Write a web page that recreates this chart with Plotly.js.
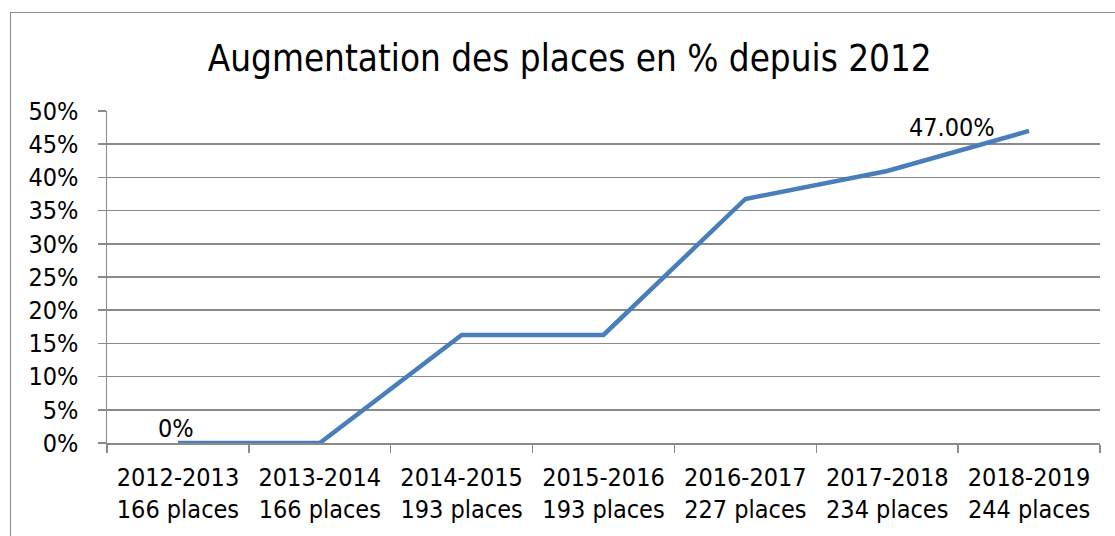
<!DOCTYPE html>
<html><head><meta charset="utf-8">
<script src="https://cdn.plot.ly/plotly-3.0.1.min.js"></script>
<style>
html,body{margin:0;padding:0;background:#fff;}
#wrap{position:relative;width:1115px;height:536px;overflow:hidden;}
#chart{width:1115px;height:536px;}
#frame{position:absolute;left:10px;top:12px;width:1130px;height:560px;border:1.5px solid #8a8a8a;pointer-events:none;}
</style></head>
<body>
<div id="wrap"><div id="chart"></div><div id="frame"></div></div>
<script>
const seasons = ["2012-2013","2013-2014","2014-2015","2015-2016","2016-2017","2017-2018","2018-2019"];
const places = [166,166,193,193,227,234,244];
const increase = [0, 0, 0.1627, 0.1627, 0.3675, 0.4096, 0.47];
const labelled = [0, 6];
const labelText = ["0%", "47.00%"];

const cats = seasons.map((s,i)=> s + "<br>" + places[i] + " places");
const FONT = "DejaVu Sans Condensed, DejaVu Sans, sans-serif";

const trace = {
  x: cats, y: increase, type: "scatter", mode: "lines",
  line: {color: "#4a7ebb", width: 4.5},
  hoverinfo: "skip"
};

const shifts = [{xs:-2, ys:15, ya:"middle"}, {xs:-77, ys:3, ya:"middle"}];
const annotations = labelled.map((idx,k)=>({
  x: cats[idx], y: increase[idx], xref:"x", yref:"y",
  text: labelText[k], showarrow:false,
  xanchor:"center", yanchor: shifts[k].ya,
  xshift: shifts[k].xs, yshift: shifts[k].ys,
  font:{family:FONT, size:25, color:"#000"}
}));

const layout = {
  width: 1115, height: 536,
  margin: {l:107, r:15, t:111, b:93},
  paper_bgcolor: "rgba(0,0,0,0)", plot_bgcolor: "#fff",
  showlegend: false,
  title: {text: "Augmentation des places en % depuis 2012", x: 0.511, xanchor:"center",
          y: 1 - 58/536, yanchor:"middle", yref:"container",
          font: {family: FONT, size: 36.5, color: "#000"}},
  xaxis: {type:"category", showgrid:false, showline:true, linecolor:"#8a8a8a", linewidth:1.5,
          ticks:"outside", tickson:"boundaries", ticklen:8, tickcolor:"#8a8a8a", tickwidth:1.5,
          ticklabelstandoff: 11,
          tickfont:{family:FONT, size:25, color:"#000"}, fixedrange:true,
          range:[-0.5, 6.5], zeroline:false},
  yaxis: {range:[0,0.5], dtick:0.05, tick0:0, tickformat:".0%", showgrid:true,
          gridcolor:"#8a8a8a", gridwidth:1.5, showline:true, linecolor:"#8a8a8a", linewidth:1.5,
          ticks:"outside", ticklen:8, tickcolor:"#8a8a8a", tickwidth:1.5,
          ticklabelstandoff: 14,
          tickfont:{family:FONT, size:25, color:"#000"}, zeroline:false, fixedrange:true},
  annotations: annotations
};

Plotly.newPlot("chart", [trace], layout, {displayModeBar:false, staticPlot:true});
</script>
</body></html>
